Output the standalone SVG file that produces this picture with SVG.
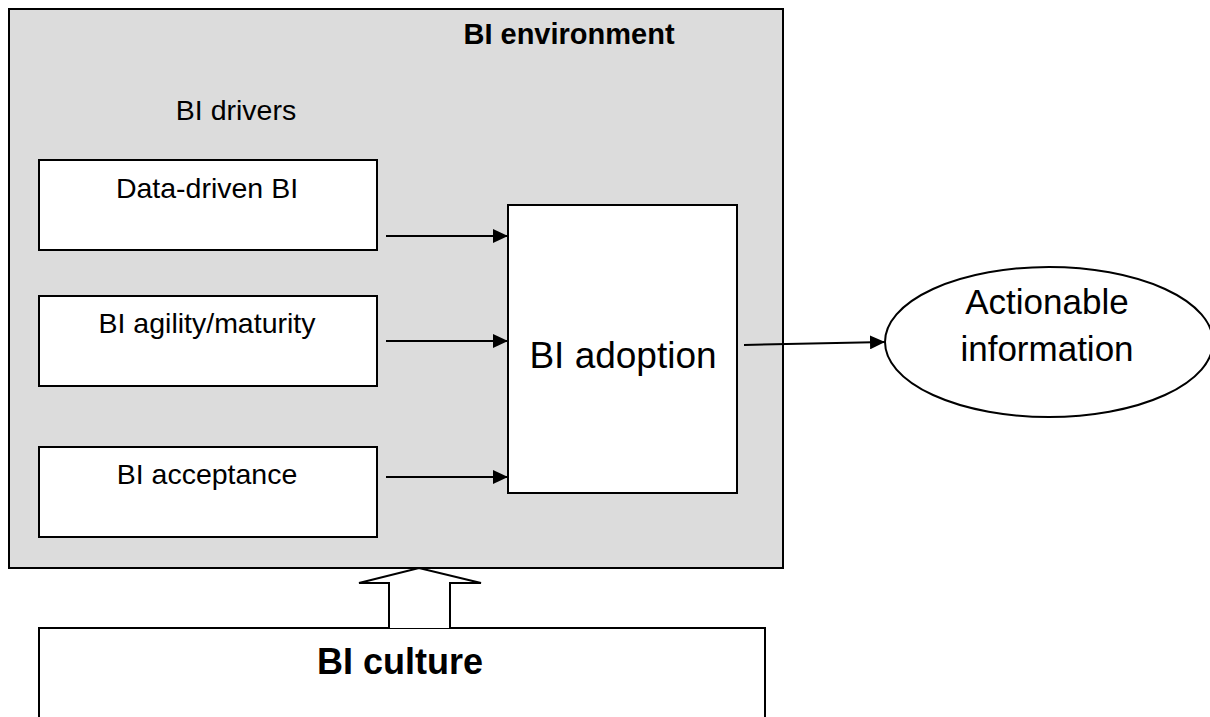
<svg xmlns="http://www.w3.org/2000/svg" width="1210" height="717" viewBox="0 0 1210 717">
<defs>
<marker id="ah" markerWidth="16" markerHeight="14" refX="15" refY="7" orient="auto" markerUnits="userSpaceOnUse">
<path d="M0,0 L15,7 L0,14 z" fill="#000"/>
</marker>
<style>
.box{fill:#fff;stroke:#000;stroke-width:2}
.t{font-family:"Liberation Sans",Arial,sans-serif;fill:#000}
.s{font-size:28.5px}
.l{font-size:37px}
.c{stroke:#000;stroke-width:2;fill:none}
</style>
</defs>
<rect width="1210" height="717" fill="#fff"/>
<g id="env">
<rect x="9" y="9" width="774" height="559" fill="#dcdcdc" stroke="#000" stroke-width="2"/>
<text class="t" x="569" y="44" font-size="29" font-weight="bold" text-anchor="middle">BI environment</text>
<text class="t s" x="236" y="120" text-anchor="middle">BI drivers</text>
</g>
<g id="data-driven">
<rect class="box" x="39" y="160" width="338" height="90"/>
<text class="t s" x="207" y="198" text-anchor="middle">Data-driven BI</text>
</g>
<g id="agility">
<rect class="box" x="39" y="296" width="338" height="90"/>
<text class="t s" x="207" y="333" text-anchor="middle">BI agility/maturity</text>
</g>
<g id="acceptance">
<rect class="box" x="39" y="447" width="338" height="90"/>
<text class="t s" x="207" y="484" text-anchor="middle">BI acceptance</text>
</g>
<g id="adoption">
<rect class="box" x="508" y="205" width="229" height="288"/>
<text class="t l" x="623" y="368" text-anchor="middle">BI adoption</text>
</g>
<g id="actionable">
<ellipse cx="1049" cy="342" rx="164" ry="75" fill="#fff" stroke="#000" stroke-width="2"/>
<text class="t" x="1047" y="314" font-size="35" text-anchor="middle">Actionable</text>
<text class="t" x="1047" y="361" font-size="35" text-anchor="middle">information</text>
</g>
<g id="culture">
<path d="M39,717 V628 H765 V717" fill="#fff" stroke="#000" stroke-width="2"/>
<text class="t" x="400" y="674" font-size="36" font-weight="bold" text-anchor="middle">BI culture</text>
</g>
<g id="connectors">
<path class="c" d="M386,236 H508" marker-end="url(#ah)"/>
<path class="c" d="M386,341 H508" marker-end="url(#ah)"/>
<path class="c" d="M386,477 H508" marker-end="url(#ah)"/>
<path class="c" d="M744,345 L885,342" marker-end="url(#ah)"/>
<path d="M389,628 V583 H359 L419,568 L481,583 H450 V628" fill="#fff" stroke="#000" stroke-width="2"/>
</g>
</svg>
